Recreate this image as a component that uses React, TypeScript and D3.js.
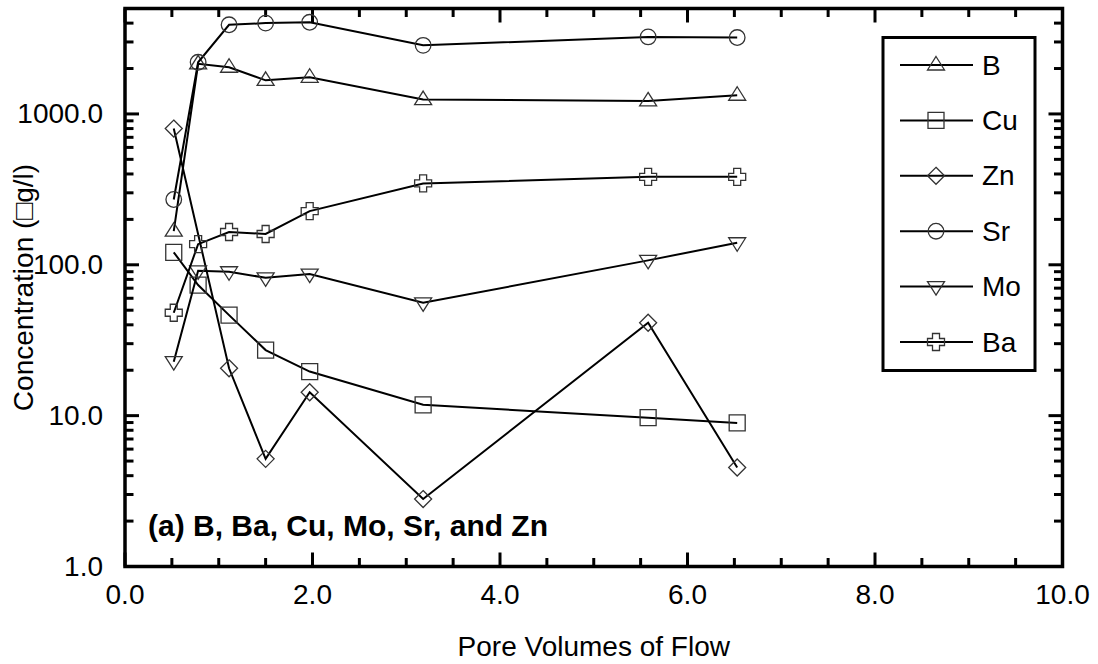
import React from "react";
import * as d3 from "d3";

// Pore volumes at which each sample was taken
const poreVolumes = [0.52, 0.78, 1.11, 1.5, 1.97, 3.18, 5.58, 6.53];
const znPoreVolumes = [0.52, 1.11, 1.5, 1.97, 3.18, 5.58, 6.53];

// Concentrations (µg/l)
const bValues = [167, 2150, 2040, 1670, 1750, 1245, 1220, 1330];
const cuValues = [121, 73.4, 46.4, 27.2, 19.6, 11.8, 9.7, 8.95];
const znValues = [800, 20.6, 5.17, 14.3, 2.8, 41.3, 4.53];
const srValues = [271, 2200, 3900, 4000, 4050, 2850, 3240, 3210];
const moValues = [22.8, 91.2, 89.9, 82, 86.8, 56, 107, 140];
const baValues = [48.1, 137, 165, 160, 227, 346, 383, 383];

const seriesNames = ["B", "Cu", "Zn", "Sr", "Mo", "Ba"];
const xTickValues = [0, 2, 4, 6, 8, 10];
const yTickValues = [1, 10, 100, 1000];

type Shape = "triUp" | "square" | "diamond" | "circle" | "triDown" | "cross";

const series: { name: string; xs: number[]; ys: number[]; shape: Shape }[] = [
  { name: seriesNames[0], xs: poreVolumes, ys: bValues, shape: "triUp" },
  { name: seriesNames[1], xs: poreVolumes, ys: cuValues, shape: "square" },
  { name: seriesNames[2], xs: znPoreVolumes, ys: znValues, shape: "diamond" },
  { name: seriesNames[3], xs: poreVolumes, ys: srValues, shape: "circle" },
  { name: seriesNames[4], xs: poreVolumes, ys: moValues, shape: "triDown" },
  { name: seriesNames[5], xs: poreVolumes, ys: baValues, shape: "cross" },
];

const W = 1098;
const H = 664;
const M = { left: 125, right: 1062.5, top: 8.5, bottom: 566.5 };
const FONT = "'Liberation Sans', Arial, sans-serif";
const FS = 28;

function markerPath(shape: Shape): string {
  switch (shape) {
    case "triUp":
      return "M0,-8.5L8.5,5L-8.5,5Z";
    case "triDown":
      return "M0,8.5L8.5,-5L-8.5,-5Z";
    case "square":
      return "M-8,-8H8V8H-8Z";
    case "diamond":
      return "M0,-8.5L8.5,0L0,8.5L-8.5,0Z";
    case "cross": {
      const a = 3.5;
      const r = 8.5;
      return `M${-a},${-r}H${a}V${-a}H${r}V${a}H${a}V${r}H${-a}V${a}H${-r}V${-a}H${-a}Z`;
    }
    default:
      return "";
  }
}

function Marker({ shape, x, y }: { shape: Shape; x: number; y: number }) {
  const common = { fill: "none", stroke: "#333", strokeWidth: 1.3 };
  if (shape === "circle") return <circle cx={x} cy={y} r={7.8} {...common} />;
  return <path d={markerPath(shape)} transform={`translate(${x},${y})`} {...common} />;
}

export default function App() {
  const x = d3.scaleLinear().domain([0, 10]).range([M.left, M.right]);
  const y = d3.scaleLog().domain([1, 5000]).range([M.bottom, M.top]);

  const line = (xs: number[], ys: number[]) =>
    d3
      .line<number>()
      .x((_, i) => x(xs[i]))
      .y((v) => y(v))(ys) || "";

  const xMinor = d3.range(0, 10.01, 0.5).filter((v) => Math.abs(v % 2) > 1e-6);
  const yMinor: number[] = [];
  for (let e = 0; e < 4; e++) {
    for (let k = 2; k <= 9; k++) {
      const v = k * Math.pow(10, e);
      if (v < 5000) yMinor.push(v);
    }
  }

  const MAJ = 14;
  const MIN = 8.5;
  const tickStroke = { stroke: "#000", strokeWidth: 3 };

  const legendRowY = (i: number) => 65 + i * 55.4;

  return (
    <svg width={W} height={H} style={{ position: "absolute", left: 0, top: 0, background: "#fff" }}>
      <rect x={0} y={0} width={W} height={H} fill="#fff" />

      {/* bottom and top ticks */}
      {xTickValues.map((v) => (
        <g key={`xm${v}`}>
          <line x1={x(v)} x2={x(v)} y1={M.bottom} y2={M.bottom - MAJ} {...tickStroke} />
          <line x1={x(v)} x2={x(v)} y1={M.top} y2={M.top + MAJ} {...tickStroke} />
        </g>
      ))}
      {xMinor.map((v) => (
        <g key={`xn${v}`}>
          <line x1={x(v)} x2={x(v)} y1={M.bottom} y2={M.bottom - MIN} {...tickStroke} />
          <line x1={x(v)} x2={x(v)} y1={M.top} y2={M.top + MIN} {...tickStroke} />
        </g>
      ))}
      {/* left and right ticks */}
      {yTickValues.map((v) => (
        <g key={`ym${v}`}>
          <line x1={M.left} x2={M.left + MAJ} y1={y(v)} y2={y(v)} {...tickStroke} />
          <line x1={M.right} x2={M.right - MAJ} y1={y(v)} y2={y(v)} {...tickStroke} />
        </g>
      ))}
      {yMinor.map((v) => (
        <g key={`yn${v}`}>
          <line x1={M.left} x2={M.left + MIN} y1={y(v)} y2={y(v)} {...tickStroke} />
          <line x1={M.right} x2={M.right - MIN} y1={y(v)} y2={y(v)} {...tickStroke} />
        </g>
      ))}

      {/* frame */}
      <rect
        x={M.left}
        y={M.top}
        width={M.right - M.left}
        height={M.bottom - M.top}
        fill="none"
        stroke="#000"
        strokeWidth={3.5}
      />

      {/* tick labels */}
      {xTickValues.map((v) => (
        <text
          key={`xl${v}`}
          x={x(v)}
          y={M.bottom + 28}
          textAnchor="middle"
          dominantBaseline="central"
          fontFamily={FONT}
          fontSize={FS}
          fill="#000"
        >
          {v.toFixed(1)}
        </text>
      ))}
      {yTickValues.map((v) => (
        <text
          key={`yl${v}`}
          x={M.left - 22}
          y={y(v)}
          textAnchor="end"
          dominantBaseline="central"
          fontFamily={FONT}
          fontSize={FS}
          fill="#000"
        >
          {v.toFixed(1)}
        </text>
      ))}

      {/* axis titles */}
      <text
        x={(M.left + M.right) / 2}
        y={646}
        textAnchor="middle"
        dominantBaseline="central"
        fontFamily={FONT}
        fontSize={FS}
      >
        Pore Volumes of Flow
      </text>
      <text
        transform={`translate(33,${(M.top + M.bottom) / 2}) rotate(-90)`}
        textAnchor="middle"
        fontFamily={FONT}
        fontSize={FS}
      >
        Concentration (□g/l)
      </text>

      {/* data */}
      {series.map((s) => (
        <g key={s.name}>
          <path d={line(s.xs, s.ys)} fill="none" stroke="#000" strokeWidth={2} />
          {s.ys.map((v, i) => (
            <Marker key={i} shape={s.shape} x={x(s.xs[i])} y={y(v)} />
          ))}
        </g>
      ))}

      {/* panel label */}
      <text x={148} y={525} dominantBaseline="central" fontFamily={FONT} fontSize={30} fontWeight="bold">
        (a) B, Ba, Cu, Mo, Sr, and Zn
      </text>

      {/* legend */}
      <rect x={883} y={37.5} width={152} height={333} fill="#fff" stroke="#000" strokeWidth={3} />
      {series.map((s, i) => (
        <g key={`lg${s.name}`}>
          <line x1={900} x2={973} y1={legendRowY(i)} y2={legendRowY(i)} stroke="#000" strokeWidth={2} />
          <Marker shape={s.shape} x={936} y={legendRowY(i)} />
          <text
            x={982}
            y={legendRowY(i)}
            dominantBaseline="central"
            fontFamily={FONT}
            fontSize={FS}
          >
            {s.name}
          </text>
        </g>
      ))}
    </svg>
  );
}
